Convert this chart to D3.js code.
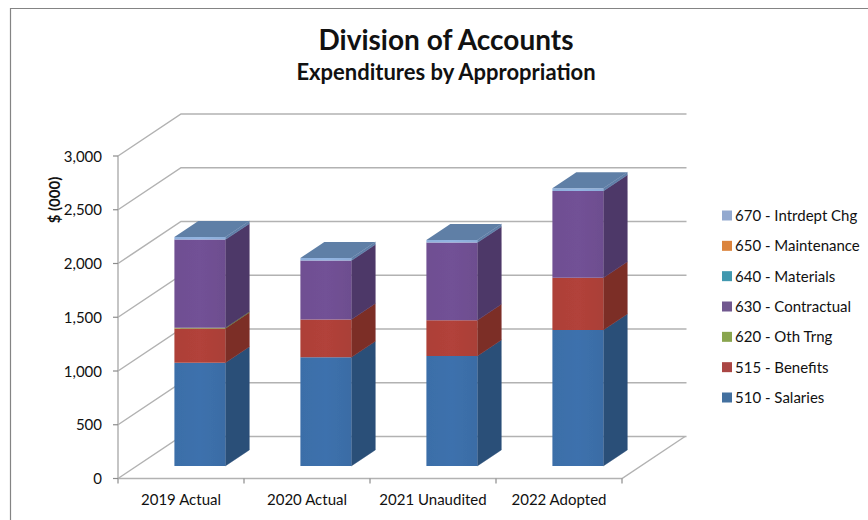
<!DOCTYPE html>
<html><head><meta charset="utf-8">
<script src="https://cdnjs.cloudflare.com/ajax/libs/d3/7.8.5/d3.min.js"></script>
<style>html,body{margin:0;padding:0;background:#fff}svg{display:block}text{font-family:Lato,"Open Sans",sans-serif;fill:#111}</style>
</head><body><svg id="c" width="868" height="520"></svg>
<script>
const categories=["2019 Actual","2020 Actual","2021 Unaudited","2022 Adopted"];
const salaries=[960,1010,1023,1265];
const benefits=[318,352,332,485];
const othTrng=[8,0,0,0];
const contractual=[819,548,722,808];
const materials=[0,0,0,0];
const maintenance=[0,0,0,0];
const intrdept=[25,25,25,25];
const seriesNames=["510 - Salaries","515 - Benefits","620 - Oth Trng","630 - Contractual","640 - Materials","650 - Maintenance","670 - Intrdept Chg"];
const seriesValues=[salaries,benefits,othTrng,contractual,materials,maintenance,intrdept];
const frontColors=["#3b6ea8","#ad4038","#8aa64a","#6f4f92","#3f98ae","#dd8238","#8fb0dc"];
const sideColors=["#2b4f78","#7c2e28","#64783a","#4e3868","#2c6d7e","#a05e28","#5f7fa8"];
const legendColors=["#43709f","#aa4644","#89a54e","#71588f","#4198af","#db843d","#93a9cf"];
const yTicks=[0,500,1000,1500,2000,2500,3000];

const svg=d3.select("#c");
const defs=svg.append("defs");
defs.append("filter").attr("id","soft").append("feGaussianBlur").attr("stdDeviation",0.5);
svg.append("path").attr("d","M10.5,520V8.5H868").attr("fill","none").attr("stroke","#848484").attr("stroke-width",1.2);

const y=d3.scaleLinear().domain([0,3000]).range([478.5,156]);
const x=d3.scaleBand().domain(categories).range([118,622]);
const depthX=d3.scaleLinear().domain([0,1]).range([0,63]);
const depthY=d3.scaleLinear().domain([0,1]).range([0,-42]);
const P=(px,v,d)=>[px+depthX(d),y(v)+depthY(d)];
const path=pts=>d3.line()(pts)+"Z";
const grid="#b2b2b2";
const marks=svg.append("g").attr("filter","url(#soft)");

// walls
yTicks.forEach(t=>{
  marks.append("path").attr("d",d3.line()([P(118,t,0),P(118,t,1),P(623.5,t,1)])).attr("fill","none").attr("stroke",grid).attr("stroke-width",1.5);
});
marks.append("path").attr("d",d3.line()([P(622,0,1),P(622,0,0),P(118,0,0)])).attr("fill","none").attr("stroke",grid).attr("stroke-width",1.5);
// axes
marks.append("line").attr("x1",118).attr("x2",118).attr("y1",y(3000)).attr("y2",y(0)).attr("stroke",grid).attr("stroke-width",1.5);
yTicks.forEach(t=>{
  marks.append("line").attr("x1",113).attr("x2",118).attr("y1",y(t)).attr("y2",y(t)).attr("stroke","#8c8c8c").attr("stroke-width",1.2);
  svg.append("text").attr("x",102).attr("y",y(t)+5.5).attr("text-anchor","end").attr("font-size",15).text(d3.format(",")(t));
});
x.domain().forEach(c=>{
  const tx=x(c);
  marks.append("line").attr("x1",tx).attr("x2",tx).attr("y1",y(0)).attr("y2",y(0)+5).attr("stroke","#8c8c8c").attr("stroke-width",1.2);
  svg.append("text").attr("x",tx+x.bandwidth()/2).attr("y",505).attr("text-anchor","middle").attr("font-size",15).text(c);
});
marks.append("line").attr("x1",622).attr("x2",622).attr("y1",y(0)).attr("y2",y(0)+5).attr("stroke","#8c8c8c").attr("stroke-width",1.2);

// bars
const barW=51,d0=0.3,d1=0.68;
frontColors.forEach((col,s)=>{
  const g=defs.append("linearGradient").attr("id","g"+s);
  g.append("stop").attr("offset","0").attr("stop-color",col);
  g.append("stop").attr("offset","0.5").attr("stop-color",d3.color(col).brighter(0.08));
  g.append("stop").attr("offset","1").attr("stop-color",d3.color(col).darker(0.05));
});
categories.forEach((c,i)=>{
  const bx=x(c)+x.bandwidth()/2-25.5;
  let base=0;
  seriesValues.forEach((vals,s)=>{
    const v=vals[i]; if(!v) return;
    const top=base+v;
    marks.append("path").attr("d",path([P(bx+barW,base,d0),P(bx+barW,base,d1),P(bx+barW,top,d1),P(bx+barW,top,d0)])).attr("fill",sideColors[s]).attr("stroke",sideColors[s]).attr("stroke-width",0.4);
    marks.append("path").attr("d",path([P(bx,base,d0),P(bx+barW,base,d0),P(bx+barW,top,d0),P(bx,top,d0)])).attr("fill","url(#g"+s+")");
    base=top;
  });
  marks.append("path").attr("d",path([P(bx,base,d0),P(bx+barW,base,d0),P(bx+barW,base,d1),P(bx,base,d1)])).attr("fill","#5f7fa6");
});

// titles
svg.append("text").attr("x",446).attr("y",50).attr("text-anchor","middle").attr("font-size",28).attr("font-weight",700).text("Division of Accounts");
svg.append("text").attr("x",446).attr("y",80).attr("text-anchor","middle").attr("font-size",22).attr("font-weight",700).text("Expenditures by Appropriation");
svg.append("text").attr("transform","translate(60,200) rotate(-90)").attr("text-anchor","middle").attr("font-size",15).attr("font-weight",700).text("$ (000)");

// legend
const legendY=d3.scalePoint().domain(d3.range(seriesNames.length)).range([397.5,215.5]);
seriesNames.forEach((n,i)=>{
  svg.append("rect").attr("x",722).attr("y",legendY(i)-5).attr("width",10).attr("height",10).attr("fill",legendColors[i]);
  svg.append("text").attr("x",735).attr("y",legendY(i)+5.5).attr("font-size",15).text(n);
});
</script></body></html>
